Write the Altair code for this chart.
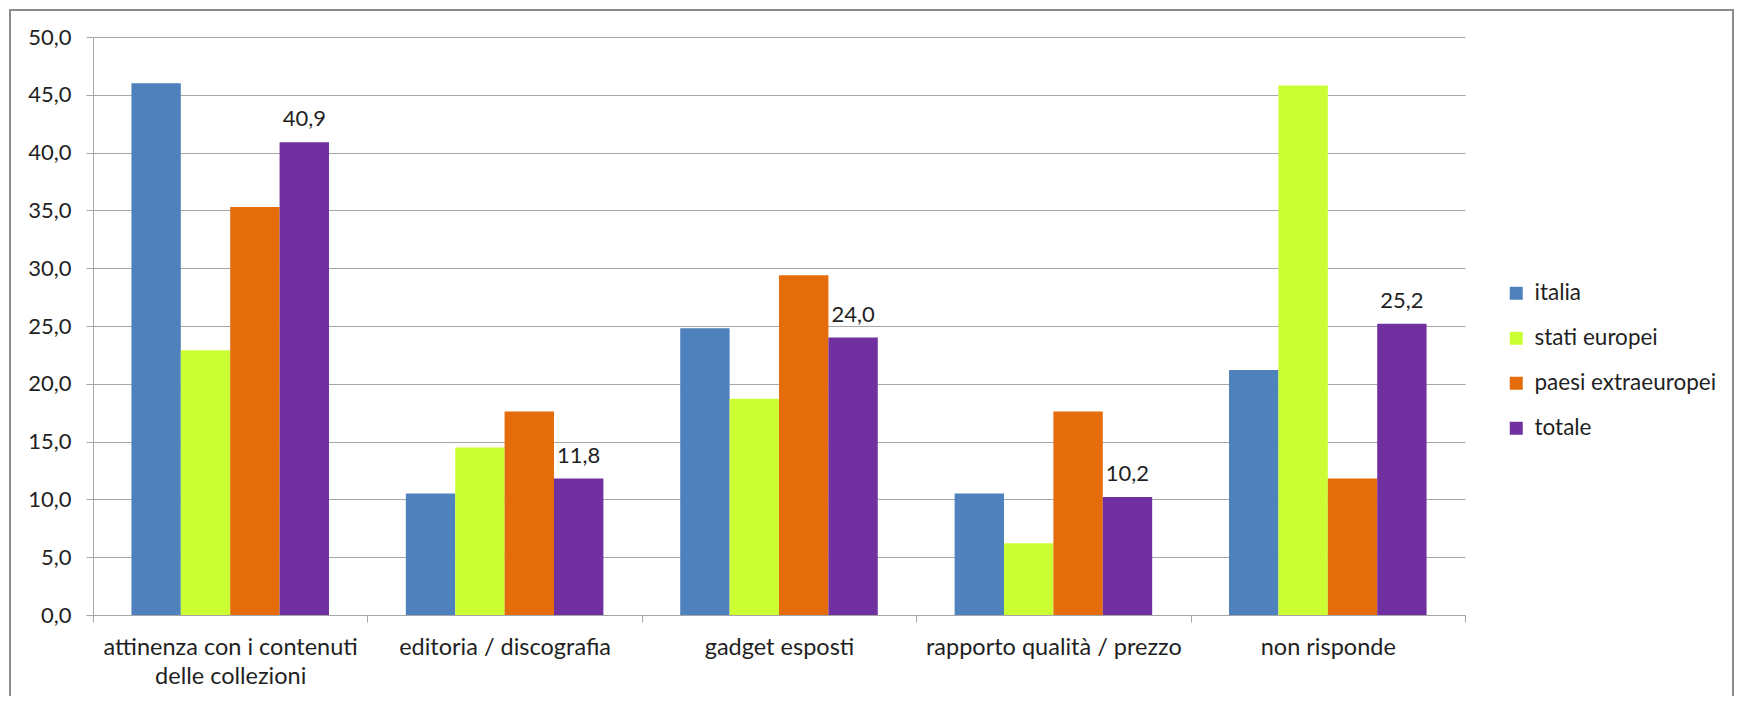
import altair as alt
import pandas as pd

categories = [
    "attinenza con i contenuti|delle collezioni",
    "editoria / discografia",
    "gadget esposti",
    "rapporto qualità / prezzo",
    "non risponde",
]
series = ["italia", "stati europei", "paesi extraeuropei", "totale"]
italia = [46.0, 10.5, 24.8, 10.5, 21.2]
stati_europei = [22.9, 14.5, 18.7, 6.2, 45.8]
paesi_extraeuropei = [35.3, 17.6, 29.4, 17.6, 11.8]
totale = [40.9, 11.8, 24.0, 10.2, 25.2]
colors = ["#4F81BD", "#CCFF33", "#E46C0A", "#7030A0"]
y_ticks = [0, 5, 10, 15, 20, 25, 30, 35, 40, 45, 50]

rows = []
for s, vals in zip(series, [italia, stati_europei, paesi_extraeuropei, totale]):
    for c, v in zip(categories, vals):
        rows.append({"categoria": c, "serie": s, "valore": v})
df = pd.DataFrame(rows)

W, H = 1372, 578
FONT = "Lato"
TXT = "#1F1F1F"
GRID = "#A6A6A6"

x_enc = alt.X(
    "categoria:N",
    sort=categories,
    scale=alt.Scale(paddingInner=0, paddingOuter=0),
    axis=alt.Axis(
        title=None,
        labelAngle=0,
        labelExpr="split(datum.label, '|')",
        labelFontSize=23.5,
        labelLineHeight=29,
        labelLimit=0,
        tickBand="extent",
        tickSize=7,
        labelPadding=13,
        domainColor=GRID,
        tickColor=GRID,
        grid=False,
    ),
)
xo_enc = alt.XOffset(
    "serie:N",
    sort=series,
    scale=alt.Scale(domain=series, paddingOuter=0.778, paddingInner=0),
)
y_enc = alt.Y(
    "valore:Q",
    scale=alt.Scale(domain=[0, 50], nice=False),
    axis=alt.Axis(
        title=None,
        values=y_ticks,
        labelExpr="replace(format(datum.value, '.1f'), '.', ',')",
        labelFontSize=22,
        grid=True,
        gridColor=GRID,
        tickSize=7,
        tickColor=GRID,
        domainColor=GRID,
        labelPadding=15,
    ),
)

bars = alt.Chart(df).mark_bar().encode(
    x=x_enc,
    xOffset=xo_enc,
    y=y_enc,
    color=alt.Color(
        "serie:N",
        sort=series,
        scale=alt.Scale(domain=series, range=colors),
        legend=alt.Legend(
            title=None,
            orient="none",
            legendX=1412,
            legendY=245,
            symbolType="square",
            symbolSize=169,
            symbolStrokeWidth=0,
            labelFontSize=22.5,
            labelFont=FONT,
            labelColor=TXT,
            labelLimit=0,
            rowPadding=22,
            labelOffset=7,
            padding=0,
        ),
    ),
)

labels = (
    alt.Chart(df)
    .transform_filter("datum.serie == 'totale'")
    .transform_calculate(lab="replace(format(datum.valore, '.1f'), '.', ',')")
    .mark_text(dy=-16, baseline="alphabetic", fontSize=22, font=FONT, color=TXT)
    .encode(x=x_enc, xOffset=xo_enc, y=y_enc, text="lab:N")
)

border = (
    alt.Chart(pd.DataFrame({"a": [0]}))
    .mark_rect(filled=False, stroke="#8C8C8C", strokeWidth=2)
    .encode(
        x=alt.value(-83),
        x2=alt.value(1640),
        y=alt.value(-27),
        y2=alt.value(720),
    )
)

chart = (
    alt.layer(border, bars, labels)
    .properties(
        width=W,
        height=H,
        autosize=alt.AutoSizeParams(type="none"),
        padding={"left": 85, "top": 29, "right": 270, "bottom": 81},
    )
    .configure_view(stroke=None)
    .configure_axis(labelFont=FONT, labelColor=TXT)
)

chart.save("out.html", embed_options={"renderer": "svg", "actions": False})
